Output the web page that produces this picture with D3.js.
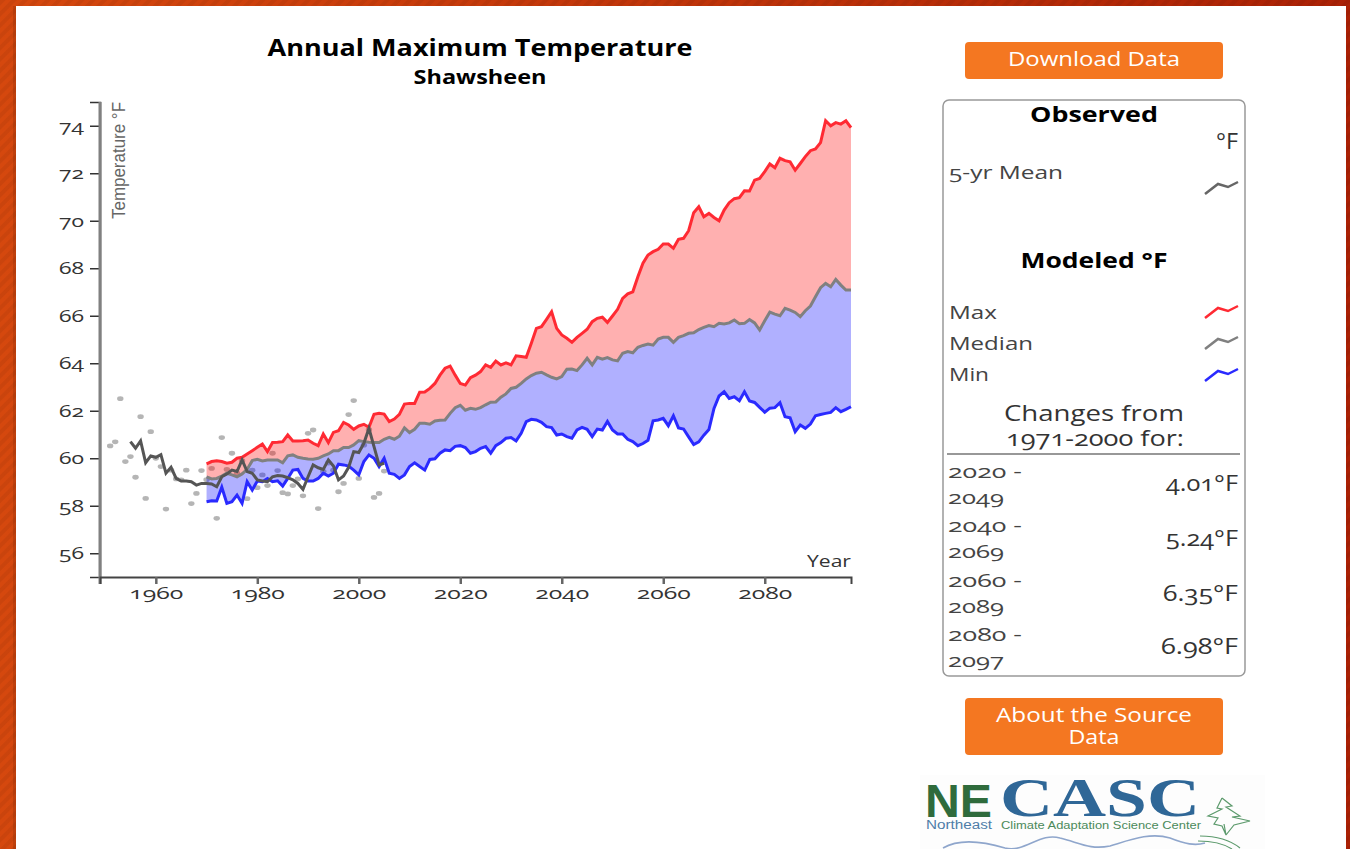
<!DOCTYPE html>
<html>
<head>
<meta charset="utf-8">
<script src="https://cdnjs.cloudflare.com/ajax/libs/d3/7.8.5/d3.min.js"></script>
<style>
  html, body { margin: 0; padding: 0; overflow: hidden; background: #c23a0c; }
  svg { display: block; }
  text { font-family: "Open Sans", sans-serif; font-feature-settings: "onum"; fill: #333; }
  .axis text { font-size: 17px; fill: #333; }
  .btn { fill: #fff; font-size: 20px; text-anchor: middle; }
  .head { font-weight: 700; font-size: 22px; fill: #000; text-anchor: middle; }
  .lbl { font-size: 19px; fill: #444; }
</style>
</head>
<body>
<div id="chart"></div>
<script>
// Chart values
const modelYears = d3.range(1970, 2098);
const maxTemps = [
  59.76,59.86,59.89,59.86,59.79,59.83,60.00,60.04,60.18,60.32,
  60.46,60.60,60.28,60.66,60.67,60.70,60.98,60.73,60.73,60.74,
  60.77,60.63,60.53,61.02,60.66,61.09,61.16,61.51,61.40,61.22,
  61.36,61.43,61.30,61.85,61.89,61.86,61.54,61.65,61.85,62.28,
  62.31,62.31,62.78,62.79,62.94,63.15,63.50,63.79,63.88,63.50,
  63.15,63.08,63.39,63.50,63.65,63.93,63.83,64.09,63.93,64.02,
  63.93,64.31,64.28,64.25,64.84,65.47,65.54,65.85,66.17,65.47,
  65.19,65.05,64.88,65.09,65.26,65.43,65.75,65.89,65.94,65.72,
  65.99,66.27,66.73,66.92,67.01,67.64,68.21,68.56,68.70,68.80,
  69.02,69.02,68.84,69.22,69.26,69.58,70.34,70.59,70.17,70.31,
  70.14,70.00,70.45,70.76,70.93,70.97,71.26,71.25,71.71,71.78,
  72.07,72.39,72.23,72.63,72.53,72.48,72.13,72.41,72.70,72.95,
  73.02,73.29,74.21,74.00,74.13,74.07,74.21,73.92
];
const medianTemps = [
  59.22,59.13,59.15,59.25,59.37,59.30,59.22,59.34,59.53,59.90,
  59.96,59.89,59.93,59.93,59.93,59.81,60.10,60.14,60.04,60.00,
  59.97,59.96,60.00,60.10,60.18,60.32,60.32,60.45,60.45,60.56,
  60.74,60.70,60.67,60.66,60.66,60.80,60.88,60.80,60.93,61.28,
  61.08,61.22,61.47,61.47,61.43,61.57,61.60,61.61,61.89,62.13,
  62.23,62.02,62.10,62.06,62.13,62.25,62.36,62.37,62.57,62.71,
  62.94,62.99,63.15,63.34,63.48,63.58,63.62,63.51,63.41,63.34,
  63.44,63.75,63.76,63.69,63.93,64.21,63.93,64.25,64.17,64.24,
  64.14,64.10,64.42,64.49,64.44,64.67,64.75,64.81,64.76,65.02,
  65.09,65.09,64.88,65.09,65.16,65.26,65.28,65.42,65.51,65.59,
  65.54,65.68,65.65,65.70,65.82,65.66,65.68,65.84,65.70,65.40,
  65.79,66.15,66.07,66.00,66.31,66.24,66.14,65.96,66.21,66.41,
  66.80,67.18,67.36,67.22,67.53,67.29,67.08,67.08
];
const minTemps = [
  58.17,58.21,58.20,58.78,58.10,58.17,58.45,58.10,59.01,58.66,
  59.04,59.01,59.15,59.01,59.05,58.83,59.15,59.50,59.53,59.15,
  59.04,59.04,59.15,59.37,59.25,59.37,59.75,59.72,59.67,59.50,
  59.30,59.86,60.14,60.00,59.65,60.00,59.37,59.32,59.15,59.30,
  59.65,59.81,59.65,59.50,59.95,59.98,60.21,60.35,60.32,60.50,
  60.53,60.45,60.21,60.28,60.42,60.49,60.21,60.53,60.66,60.84,
  60.87,60.73,61.05,61.54,61.64,61.61,61.51,61.33,61.29,60.98,
  61.02,60.91,60.84,61.19,61.30,61.22,60.91,61.23,61.19,61.55,
  61.19,61.02,61.02,60.80,60.70,60.53,60.62,60.76,61.58,61.61,
  61.68,61.37,61.79,61.28,61.23,60.90,60.58,60.69,60.97,61.21,
  62.10,62.62,62.80,62.52,62.59,62.42,62.80,62.41,62.35,62.14,
  61.94,62.11,62.13,62.34,61.75,61.70,61.12,61.40,61.26,61.44,
  61.79,61.84,61.89,61.93,62.13,61.96,62.06,62.17
];
const meanYears = d3.range(1955, 2006);
const meanTemps = [
  60.70,60.42,60.73,59.81,60.10,60.04,60.15,59.37,59.62,59.15,
  59.04,59.04,59.01,58.87,58.94,58.94,58.92,58.80,59.22,59.34,
  59.50,59.44,59.93,59.44,59.37,59.09,59.04,59.01,59.22,59.27,
  59.25,59.18,59.09,58.94,58.69,59.22,59.72,59.60,59.53,59.93,
  59.67,59.09,59.25,59.62,60.28,60.24,60.63,61.26,60.49,59.72,
  59.79
];
const observedYears = d3.range(1951, 2006);
const observedTemps = [
  60.52,60.69,62.51,59.86,60.07,59.20,61.75,58.31,61.12,60.00,
  59.65,57.86,59.50,59.13,59.09,59.50,58.09,58.52,59.48,59.10,
  59.57,57.47,60.87,59.53,60.21,59.37,59.90,58.30,59.50,58.76,
  59.30,58.85,60.21,59.48,58.55,58.50,58.85,59.13,58.42,61.05,
  61.19,57.88,59.45,59.80,59.50,58.59,58.94,61.84,62.43,59.15,
  60.55,61.20,58.35,58.52,59.46
];
const yTicks = [56, 58, 60, 62, 64, 66, 68, 70, 72, 74];
const xTicks = [1960, 1980, 2000, 2020, 2040, 2060, 2080];
const changePeriods = [["2020 -", "2049"], ["2040 -", "2069"], ["2060 -", "2089"], ["2080 -", "2097"]];
const changeValues = ["4.01°F", "5.24°F", "6.35°F", "6.98°F"];
const legendSteps = [0, 13, 23, 33];
const legendShape = [0, 10, 7, 12];

// The reference text runs wider than any installed font, so stretch each run to its measured width
const fit = (sel, w) => sel.attr("textLength", w).attr("lengthAdjust", "spacingAndGlyphs");

const svg = d3.select("#chart").append("svg")
    .attr("width", 1350)
    .attr("height", 849);

// Page background: red-orange gradient with faint diagonal stripes
const defs = svg.append("defs");
const grad = defs.append("linearGradient").attr("id", "bg");
grad.append("stop").attr("offset", "0%").attr("stop-color", "#d5480e");
grad.append("stop").attr("offset", "100%").attr("stop-color", "#ab2105");
const stripes = defs.append("pattern")
    .attr("id", "stripes")
    .attr("width", 8).attr("height", 8)
    .attr("patternUnits", "userSpaceOnUse")
    .attr("patternTransform", "rotate(45)");
stripes.append("rect").attr("width", 4).attr("height", 8).attr("fill", "#000").attr("opacity", 0.05);

svg.append("rect").attr("width", 1350).attr("height", 849).attr("fill", "url(#bg)");
svg.append("rect").attr("width", 1350).attr("height", 849).attr("fill", "url(#stripes)");
svg.append("rect").attr("x", 13).attr("y", 6).attr("width", 3).attr("height", 843).attr("fill", "#000").attr("opacity", 0.1);
svg.append("rect").attr("x", 16).attr("y", 6).attr("width", 1330).attr("height", 843).attr("fill", "#fff");

// Scales
const x = d3.scaleLinear().domain([1949, 2097]).range([100, 851]);
const y = d3.scaleLinear().domain([55, 75]).range([577, 102]);

// Titles
fit(svg.append("text").attr("x", 480).attr("y", 56).attr("text-anchor", "middle")
    .style("font-size", "23px").style("font-weight", "700").style("fill", "#000")
    .text("Annual Maximum Temperature"), 425);
fit(svg.append("text").attr("x", 480).attr("y", 84).attr("text-anchor", "middle")
    .style("font-size", "19px").style("font-weight", "700").style("fill", "#000")
    .text("Shawsheen"), 133);

// Observed yearly points
svg.selectAll(".obs")
    .data(observedYears)
    .enter()
    .append("ellipse")
    .attr("class", "obs")
    .attr("cx", d => x(d))
    .attr("cy", (d, i) => y(observedTemps[i]))
    .attr("rx", 3.2)
    .attr("ry", 2.4)
    .attr("fill", "#b5b5b5");

// Shaded bands between the modeled series
const upperArea = d3.area().x((d, i) => x(d)).y0((d, i) => y(medianTemps[i])).y1((d, i) => y(maxTemps[i]));
const lowerArea = d3.area().x((d, i) => x(d)).y0((d, i) => y(minTemps[i])).y1((d, i) => y(medianTemps[i]));
svg.append("path").attr("d", upperArea(modelYears)).attr("fill", "#ff0000").attr("fill-opacity", 0.31);
svg.append("path").attr("d", lowerArea(modelYears)).attr("fill", "#0000ff").attr("fill-opacity", 0.31);

// Lines
const lineFor = (years, values) => d3.line().x(d => x(d)).y((d, i) => y(values[i]))(years);
[[maxTemps, "#ff2a33"], [medianTemps, "#808080"], [minTemps, "#2a2aff"]].forEach(([values, color]) => {
    svg.append("path").attr("d", lineFor(modelYears, values))
        .attr("fill", "none").attr("stroke", color).attr("stroke-width", 3);
});
svg.append("path").attr("d", lineFor(meanYears, meanTemps))
    .attr("fill", "none").attr("stroke", "#555").attr("stroke-width", 3);

// Axes
const yAxis = d3.axisLeft(y).tickValues(yTicks).tickSize(10).tickFormat(d => d);
const xAxis = d3.axisBottom(x).tickValues(xTicks).tickSize(7).tickSizeOuter(7).tickPadding(3).tickFormat(d => d);

const gy = svg.append("g").attr("class", "axis").attr("transform", "translate(100,0)").call(yAxis);
gy.select(".domain").attr("stroke", "#333").attr("stroke-width", 1.5);
gy.selectAll(".tick line").attr("stroke", "#333").attr("stroke-width", 1.5);
gy.selectAll(".tick text").attr("dx", -3).each(function () { fit(d3.select(this), 25); });
svg.append("line").attr("x1", x(1949)).attr("x2", x(1949)).attr("y1", 102).attr("y2", 584)
    .attr("stroke", "#808080").attr("stroke-width", 3);

const gx = svg.append("g").attr("class", "axis").attr("transform", "translate(0,577)").call(xAxis);
gx.select(".domain").attr("stroke", "#444").attr("stroke-width", 2);
gx.selectAll(".tick line").attr("stroke", "#666").attr("stroke-width", 2.5);
gx.selectAll(".tick text").each(function () { fit(d3.select(this), 54); });

fit(svg.append("text").attr("x", 851).attr("y", 567).attr("text-anchor", "end")
    .style("font-size", "17px").text("Year"), 44);
fit(svg.append("text")
    .attr("transform", "translate(125,102) rotate(-90)")
    .attr("text-anchor", "end")
    .style("font-family", "'Liberation Sans', sans-serif")
    .style("font-size", "18px").style("fill", "#666")
    .text("Temperature °F"), 117);

// Buttons
const button = (top, h, lines) => {
    svg.append("rect").attr("x", 965).attr("y", top).attr("width", 258).attr("height", h)
        .attr("rx", 4).attr("fill", "#f47721");
    const label = svg.append("text").attr("class", "btn");
    lines.forEach(l => fit(label.append("tspan").attr("x", 1094).attr("y", l[1]).text(l[0]), l[2]));
};
button(42, 37, [["Download Data", 66, 172]]);
button(698, 57, [["About the Source", 722, 196], ["Data", 744, 51]]);

// Legend box
svg.append("rect").attr("x", 943).attr("y", 100).attr("width", 302).attr("height", 576)
    .attr("rx", 6).attr("fill", "#fff").attr("stroke", "#999").attr("stroke-width", 1.5);
fit(svg.append("text").attr("class", "head").attr("x", 1094).attr("y", 122).text("Observed"), 128);
fit(svg.append("text").attr("x", 1238).attr("y", 149).attr("text-anchor", "end").style("font-size", "21px").text("°F"), 22);
fit(svg.append("text").attr("class", "head").attr("x", 1094).attr("y", 268).text("Modeled °F"), 147);

const legendX = d3.scaleLinear().domain([0, 33]).range([1205, 1238]);
const legendY = d3.scaleLinear().domain([0, 12]).range([12, 0]);
const legendRow = (label, width, baseline, iconTop, color) => {
    fit(svg.append("text").attr("class", "lbl").attr("x", 949).attr("y", baseline).text(label), width);
    svg.append("path")
        .attr("transform", "translate(0," + iconTop + ")")
        .attr("d", d3.line().x(d => legendX(d)).y((d, i) => legendY(legendShape[i]))(legendSteps))
        .attr("fill", "none").attr("stroke", color).attr("stroke-width", 2.5);
};
legendRow("5-yr Mean", 114, 179, 182, "#666");
legendRow("Max", 48, 319, 306, "#ff2a33");
legendRow("Median", 84, 350, 337, "#808080");
legendRow("Min", 40, 381, 369, "#2a2aff");

fit(svg.append("text").attr("x", 1094).attr("y", 421).attr("text-anchor", "middle").style("font-size", "21px").text("Changes from"), 180);
fit(svg.append("text").attr("x", 1095).attr("y", 446).attr("text-anchor", "middle").style("font-size", "21px").text("1971-2000 for:"), 178);
svg.append("line").attr("x1", 947).attr("x2", 1240).attr("y1", 454).attr("y2", 454).attr("stroke", "#333").attr("stroke-width", 1.2);

const rowBase = [478, 532, 587, 641];
const valueBase = [491, 546, 601, 654];
const valueWidth = [72, 72, 75, 77];
changePeriods.forEach((p, i) => {
    fit(svg.append("text").attr("class", "lbl").attr("x", 948).attr("y", rowBase[i]).text(p[0]), 74);
    fit(svg.append("text").attr("class", "lbl").attr("x", 948).attr("y", rowBase[i] + 26).text(p[1]), 56);
    fit(svg.append("text").attr("x", 1238).attr("y", valueBase[i]).attr("text-anchor", "end")
        .style("font-size", "22px").text(changeValues[i]), valueWidth[i]);
});

// NECASC logo
const logo = svg.append("g");
logo.append("rect").attr("x", 920).attr("y", 775).attr("width", 345).attr("height", 74).attr("fill", "#fdfdfd");
const logoLeft = logo.append("text").style("font-family", "'Liberation Sans', sans-serif");
fit(logoLeft.append("tspan").attr("x", 925).attr("y", 817)
    .style("font-weight", "700").style("font-size", "46px").style("fill", "#2f6b3c").text("NE"), 67);
fit(logoLeft.append("tspan").attr("x", 926).attr("y", 829)
    .style("font-size", "12px").style("fill", "#4f7da8").text("Northeast"), 66);
const logoRight = logo.append("text");
fit(logoRight.append("tspan").attr("x", 1000).attr("y", 816)
    .style("font-family", "'Liberation Serif', serif").style("font-weight", "700").style("font-size", "54px").style("fill", "#2f6797").text("CASC"), 200);
fit(logoRight.append("tspan").attr("x", 1001).attr("y", 829)
    .style("font-family", "'Liberation Sans', sans-serif").style("font-size", "11.5px").style("fill", "#4b8a5a").text("Climate Adaptation Science Center"), 200);
logo.append("path")
    .attr("d", "M943,848 C960,838 985,842 1005,848 C1025,853 1040,832 1060,838 C1080,843 1090,850 1110,846 C1130,840 1150,832 1170,838 C1185,844 1195,846 1205,843")
    .attr("fill", "none").attr("stroke", "#8fa6cc").attr("stroke-width", 1.6);
logo.append("path")
    .attr("d", "M1222,798 L1232,806 L1226,807 L1240,816 L1232,817 L1250,821 L1234,825 L1226,835 M1222,798 L1217,808 L1222,809 L1208,816 L1218,818 L1214,824 L1222,826 L1226,835 M1226,835 L1224,824 M1200,836 C1215,836 1230,840 1240,848 M1198,841 C1212,841 1224,844 1232,849")
    .attr("fill", "none").attr("stroke", "#5c9a6c").attr("stroke-width", 1.2);
</script>
</body>
</html>
